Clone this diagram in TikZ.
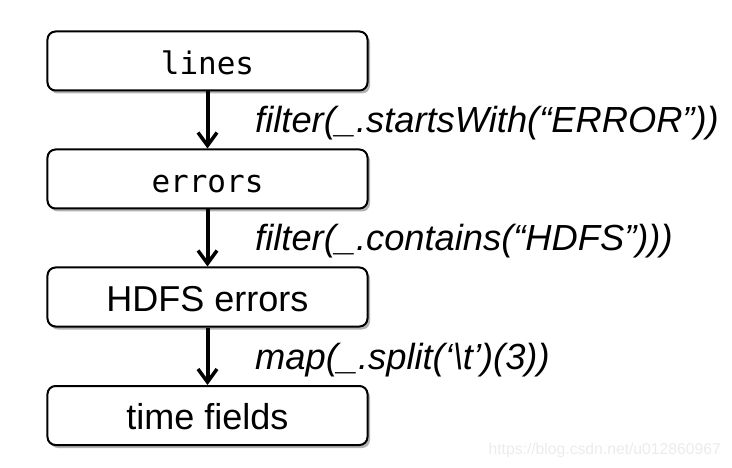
\documentclass[tikz,border=0pt]{standalone}
\usepackage{fontspec}
\setmainfont{Liberation Sans}
\newfontfamily\boxmono{DejaVu Sans Mono}
\usetikzlibrary{arrows.meta,shadows}
\begin{document}
\begin{tikzpicture}[x=1bp,y=-1bp,
  box/.style={draw=black, line width=2bp, rounded corners=8bp, fill=white,
    minimum width=320bp, minimum height=59bp, inner sep=0pt,
    drop shadow={shadow xshift=2.5bp, shadow yshift=-3bp, opacity=0.3, fill=black}},
  monobox/.style={box, font=\boxmono\fontsize{31bp}{36bp}\selectfont, text height=28bp, text depth=0pt},
  sansbox/.style={box, font=\fontsize{36bp}{41bp}\selectfont, text height=28bp, text depth=0pt},
  flow/.style={line width=4bp, -{Straight Barb[length=13bp,width=19bp,line width=3.5bp]}},
  oplabel/.style={anchor=base west, inner sep=0pt, font=\itshape\fontsize{36.3bp}{41bp}\selectfont},
  wmark/.style={anchor=base east, inner sep=0pt, text={rgb,255:red,236;green,236;blue,236}, font=\fontsize{15.7bp}{18bp}\selectfont}
]
\path[use as bounding box, fill=white] (0,0) rectangle (732,468);
\node[monobox] (lines) at (207.5,61) {lines};
\node[monobox] (errors) at (207.5,179) {errors};
\node[sansbox] (hdfs) at (207.5,297) {HDFS errors};
\node[sansbox] (time) at (207.5,415.5) {time fields};
\draw[flow] (lines) -- (errors);
\draw[flow] (errors) -- (hdfs);
\draw[flow] (hdfs) -- (time);
\node[oplabel] (l1) at (255,133) {filter(\_.startsWith(“ERROR”))};
\node[oplabel] (l2) at (255,251) {filter(\_.contains(“HDFS”)))};
\node[oplabel] (l3) at (255,369) {map(\_.split(‘\textbackslash t’)(3))};
\node[wmark] (wm) at (721,454) {https://blog.csdn.net/u012860967};
\end{tikzpicture}
\end{document}
